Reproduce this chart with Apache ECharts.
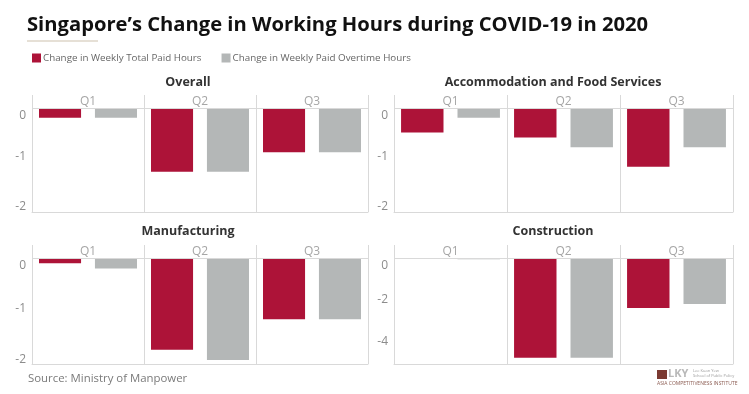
<!DOCTYPE html>
<html><head><meta charset="utf-8">
<script src="https://cdn.jsdelivr.net/npm/echarts@6/dist/echarts.min.js"></script>
<style>html,body{margin:0;padding:0;background:#fff}#c{width:749px;height:394px}</style>
</head><body><div id="c"></div>
<script>
const quarters = ['Q1','Q2','Q3'];
const seriesNames = ['Change in Weekly Total Paid Hours','Change in Weekly Paid Overtime Hours'];
const panelTitles = ['Overall','Accommodation and Food Services','Manufacturing','Construction'];
const overallTotal = [-0.2,-1.3,-0.9];
const overallOvertime = [-0.2,-1.3,-0.9];
const accomTotal = [-0.5,-0.6,-1.2];
const accomOvertime = [-0.2,-0.8,-0.8];
const manufTotal = [-0.1,-1.8,-1.2];
const manufOvertime = [-0.2,-2.0,-1.2];
const constrTotal = [0,-4.8,-2.4];
const constrOvertime = [-0.05,-4.8,-2.2];
const tickLabelsSmall = [0,-1,-2];
const tickLabelsConstr = [0,-2,-4];

const RED = '#AD1338', GRAY = '#B4B7B7', LINE = '#d9d9d9';
const FONT = '"Open Sans", sans-serif';

const panels = [
  {left:32, width:336, top:95, height:117, min:-2.12, max:0.265, ticks:tickLabelsSmall, total:overallTotal, ot:overallOvertime, tx:188, ty:82},
  {left:394, width:339, top:95, height:117, min:-2.12, max:0.265, ticks:tickLabelsSmall, total:accomTotal, ot:accomOvertime, tx:553, ty:82},
  {left:32, width:336, top:245, height:119, min:-2.08, max:0.26, ticks:tickLabelsSmall, total:manufTotal, ot:manufOvertime, tx:188, ty:231},
  {left:394, width:339, top:245, height:119, min:-5.1, max:0.64, ticks:tickLabelsConstr, total:constrTotal, ot:constrOvertime, tx:553, ty:231}
];

const grid=[], xAxis=[], yAxis=[], series=[], graphic=[];
panels.forEach((p,i)=>{
  grid.push({left:p.left, top:p.top, width:p.width, height:p.height, containLabel:false});
  xAxis.push({type:'category', gridIndex:i, data:quarters, position:'top',
    axisLine:{show:false, onZero:false},
    axisTick:{show:false},
    axisLabel:{inside:true, color:'#a6a6a6', fontSize:12, fontFamily:FONT, margin:1},
    splitLine:{show:true, lineStyle:{color:LINE, width:1}}});
  xAxis.push({type:'category', gridIndex:i, data:quarters, position:'bottom',
    axisLine:{show:true, onZero:false, lineStyle:{color:LINE, width:1}},
    axisTick:{show:false}, axisLabel:{show:false}, splitLine:{show:false}});
  yAxis.push({type:'value', gridIndex:i, min:p.min, max:p.max,
    axisLine:{show:false}, axisTick:{show:false}, splitLine:{show:false},
    axisLabel:{customValues:p.ticks, color:'#8c8c8c', fontSize:12, fontFamily:FONT, margin:6,
      formatter:v=> v===0 ? '{z|0}' : '{n|'+v+'}',
      rich:{z:{padding:[15,0,0,0], fontSize:12, color:'#8c8c8c', fontFamily:FONT}, n:{fontSize:12, color:'#8c8c8c', fontFamily:FONT}}}});
  series.push({type:'bar', name:seriesNames[0], xAxisIndex:2*i, yAxisIndex:i, data:p.total,
    itemStyle:{color:RED}, barGap:'33%', barCategoryGap:'12.5%',
    markLine:{silent:true, symbol:'none', label:{show:false}, lineStyle:{color:LINE, width:1, type:'solid'}, data:[{yAxis:0}]}});
  series.push({type:'bar', name:seriesNames[1], xAxisIndex:2*i, yAxisIndex:i, data:p.ot,
    itemStyle:{color:GRAY}, barGap:'33%', barCategoryGap:'12.5%'});
  graphic.push({type:'text', x:p.tx, y:p.ty, style:{text:panelTitles[i], font:'bold 12.5px "Open Sans"', fill:'#333', align:'center', verticalAlign:'middle'}});
});

graphic.push(
  {type:'text', x:27, y:25, style:{text:'Singapore\u2019s Change in Working Hours during COVID-19 in 2020', font:'bold 20.2px "Open Sans"', fill:'#111', verticalAlign:'middle'}},
  {type:'line', shape:{x1:27,y1:41,x2:98,y2:41}, style:{stroke:'#e6e0d6', lineWidth:2}},
  {type:'text', x:28, y:379, style:{text:'Source: Ministry of Manpower', font:'11.4px "Open Sans"', fill:'#7a7a7a', verticalAlign:'middle'}},
  {type:'rect', shape:{x:657,y:370,width:10,height:9}, style:{fill:'#7B3A32'}},
  {type:'text', x:668, y:368, style:{text:'LKY', font:'bold 11px "Open Sans"', fill:'#b9b9b9'}},
  {type:'text', x:693, y:369, style:{text:'Lee Kuan Yew', font:'4px "Open Sans"', fill:'#9a9a9a'}},
  {type:'text', x:693, y:374, style:{text:'School of Public Policy', font:'4px "Open Sans"', fill:'#9a9a9a'}},
  {type:'text', x:657, y:381, style:{text:'ASIA COMPETITIVENESS INSTITUTE', font:'5px "Open Sans"', fill:'#8a5a50'}}
);

const chart = echarts.init(document.getElementById('c'), null, {renderer:'canvas'});
chart.setOption({
  animation:false,
  legend:{left:27, top:48, itemWidth:9, itemHeight:9, icon:'rect', itemGap:20, selectedMode:false,
    data:seriesNames, textStyle:{fontFamily:FONT, fontSize:9.8, color:'#666', padding:[0,0,0,-3]}},
  grid, xAxis, yAxis, series, graphic
});
</script></body></html>
